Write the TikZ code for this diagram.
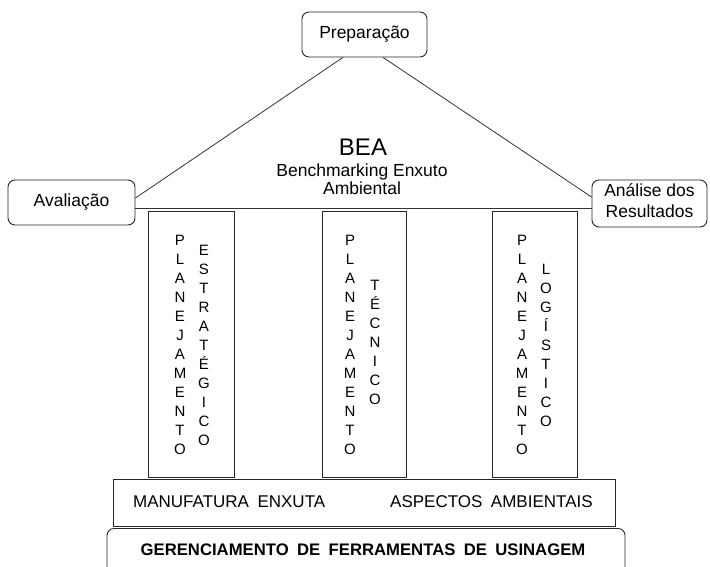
\documentclass[tikz,border=0pt]{standalone}
\usepackage{fontspec}
\setmainfont{Liberation Sans}
\newfontfamily\widefont[WordSpace=1.8]{Liberation Sans}
\usetikzlibrary{calc}
\begin{document}
\begin{tikzpicture}[x=1pt,y=-1pt,
  box/.style={draw=black!85, line width=0.9pt, rounded corners=7pt, inner sep=0pt},
  pillar/.style={draw=black!85, line width=0.9pt, inner sep=0pt},
  txt/.style={font=\fontsize{17.5}{21}\selectfont, align=center, inner sep=0pt},
  captxt/.style={font=\widefont\fontsize{17}{20}\selectfont, inner sep=0pt},
  lettercol/.style={font=\fontsize{15}{19}\selectfont, align=center, inner sep=0pt},
  roof/.style={draw=black!80, line width=0.8pt}]
\useasboundingbox (0,0) rectangle (710,566);
\clip (0,0) rectangle (710,566);

% top and side boxes
\node[box, minimum width=125pt, minimum height=45pt, txt] (prep) at (364.5,34.5) {Preparação};
\node[box, minimum width=127pt, minimum height=45pt, txt] (aval) at (71.5,202.5) {Avaliação};
\node[box, minimum width=115pt, minimum height=47pt] (anal) at (649.5,203.5) {};
\node[txt] (analtxt) at (649.5,200.5) {Análise dos\\Resultados};

% roof
\coordinate (pl) at ($(prep.south west)!0.328!(prep.south east)$);
\coordinate (pr) at ($(prep.south west)!0.648!(prep.south east)$);
\draw[roof] (pl) -- ([yshift=4.5pt]aval.east);
\draw[roof] (pr) -- ([yshift=6.5pt]anal.west);
\draw[roof] ([yshift=-5.5pt]aval.east) -- ([yshift=-4.5pt]anal.west);

% title under the roof
\node[inner sep=0pt, font=\fontsize{24}{28}\selectfont] (bea) at (363,147) {BEA};
\node[txt, font=\fontsize{17.5}{18}\selectfont] (beasub) at (362,179) {Benchmarking Enxuto\\Ambiental};

% pillars
\node[pillar, minimum width=86pt, minimum height=266pt] (p1) at (191,344) {};
\node[pillar, minimum width=84pt, minimum height=266pt] (p2) at (364,344) {};
\node[pillar, minimum width=85pt, minimum height=266pt] (p3) at (534.5,344) {};

\node[lettercol] (p1a) at (180,344.5) {P\\L\\A\\N\\E\\J\\A\\M\\E\\N\\T\\O};
\node[lettercol] (p1b) at (204,345) {E\\S\\T\\R\\A\\T\\É\\G\\I\\C\\O};
\node[lettercol] (p2a) at (350,344.5) {P\\L\\A\\N\\E\\J\\A\\M\\E\\N\\T\\O};
\node[lettercol] (p2b) at (375,342.5) {T\\É\\C\\N\\I\\C\\O};
\node[lettercol] (p3a) at (522,344.5) {P\\L\\A\\N\\E\\J\\A\\M\\E\\N\\T\\O};
\node[lettercol] (p3b) at (546,345) {L\\O\\G\\Í\\S\\T\\I\\C\\O};

% base
\node[pillar, minimum width=502pt, minimum height=47pt] (base) at (364,502.5) {};
\node[captxt, anchor=west] (mfe) at (133,502) {MANUFATURA ENXUTA};
\node[captxt, anchor=west] (asp) at (390,502) {ASPECTOS AMBIENTAIS};

% foundation
\node[box, minimum width=518pt, minimum height=60pt, anchor=north] (ger) at (366,528) {};
\node[captxt, font=\widefont\fontsize{16.7}{20}\selectfont\bfseries] (gertxt) at (363,550) {GERENCIAMENTO DE FERRAMENTAS DE USINAGEM};
\end{tikzpicture}
\end{document}
